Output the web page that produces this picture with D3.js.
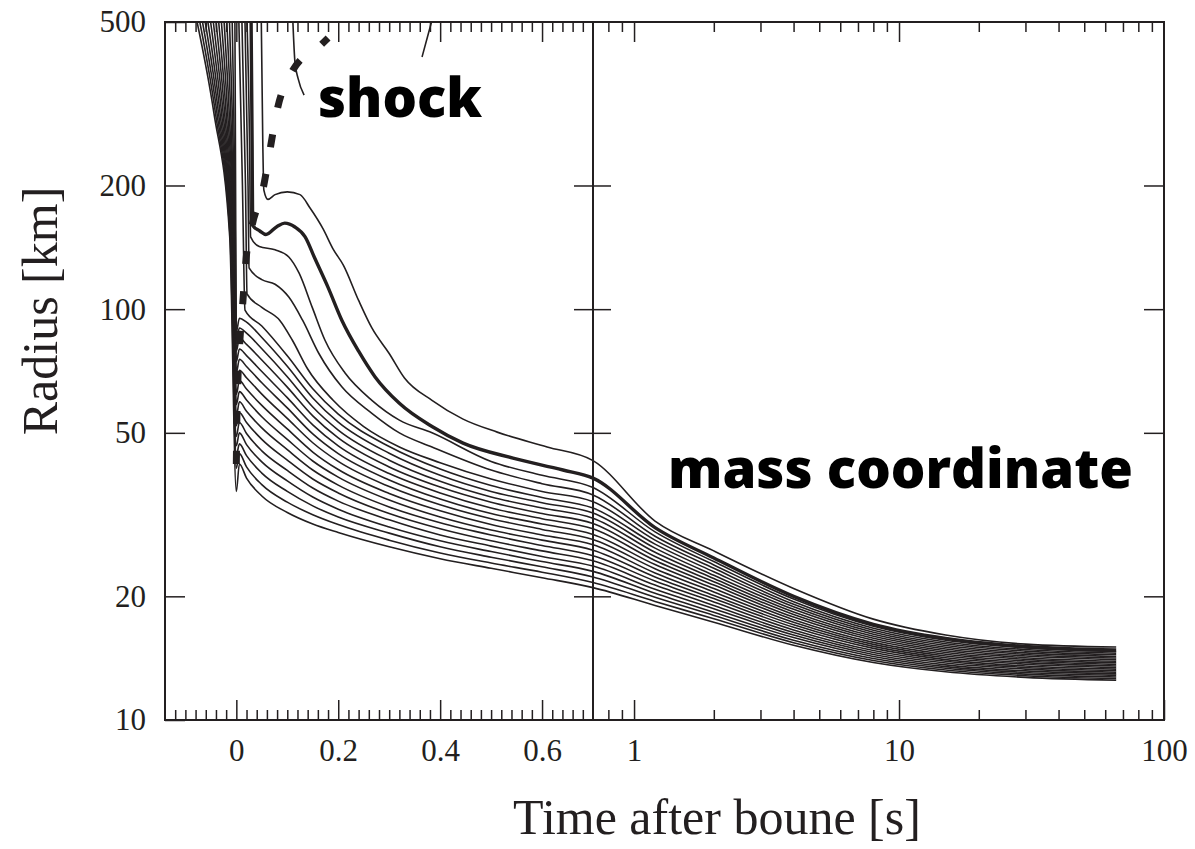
<!DOCTYPE html>
<html>
<head>
<meta charset="utf-8">
<script src="https://d3js.org/d3.v7.min.js"></script>
<style>
  body { margin: 0; background: #fff; }
  .tick line { stroke: #231f20; stroke-width: 1.5px; }
  .tick text { fill: #231f20; }
</style>
</head>
<body>
<div id="root"></div>
<script>
const width = 1195
const height = 849
const ink = '#231f20'

// axis ticks and labels
const leftTicks = [0, 0.2, 0.4, 0.6]
const leftLabels = ['0', '0.2', '0.4', '0.6']
const rightTicks = [1, 10, 100]
const rightLabels = ['1', '10', '100']
const rightMinor = [0.8, 0.9, 2, 3, 4, 5, 6, 7, 8, 9, 20, 30, 40, 50, 60, 70, 80, 90]
const yTicks = [10, 20, 50, 100, 200, 500]
const yLabels = ['10', '20', '50', '100', '200', '500']

// inner shells s0..s14: infall before bounce (time where r = 500, 300, 150 km)
const inTime500 = [-0.077, -0.0717, -0.0664, -0.0611, -0.0558, -0.0505, -0.0452, -0.0399, -0.0346, -0.0293, -0.024, -0.0187, -0.0134, -0.0081, -0.0028]
const inTime300 = [-0.044, -0.041, -0.038, -0.035, -0.032, -0.029, -0.026, -0.023, -0.020, -0.017, -0.014, -0.011, -0.008, -0.005, -0.002]
const inTime150 = [-0.013, -0.0122, -0.0113, -0.0105, -0.0096, -0.0088, -0.0079, -0.0071, -0.0062, -0.0054, -0.0045, -0.0037, -0.0028, -0.002, -0.0011]
const bounceMin = [36, 41, 44, 46.5, 49, 52, 55, 58.5, 62, 66, 70, 74.5, 79, 84, 88]   // t = 0
const bounceOut = [42, 44.5, 47, 50, 53, 56, 59.5, 63, 67, 71, 75.5, 80, 85, 90, 95]   // t = 0.006

const postTimes = [0.02, 0.05, 0.1, 0.15, 0.2, 0.3, 0.4, 0.5, 0.6, 0.7]
const postRadius = [
  [38.8, 35.1, 32.0, 30.0, 28.6, 26.4, 24.7, 23.4, 22.2, 21.0],
  [41.3, 37.4, 33.9, 31.6, 29.9, 27.4, 25.5, 24.1, 22.9, 21.6],
  [44.0, 39.9, 36.0, 33.2, 31.2, 28.5, 26.4, 24.9, 23.6, 22.3],
  [46.8, 42.5, 38.2, 34.9, 32.6, 29.5, 27.3, 25.7, 24.3, 23.0],
  [49.8, 45.2, 40.5, 36.7, 34.1, 30.7, 28.2, 26.5, 25.0, 23.7],
  [53.0, 48.2, 42.9, 38.6, 35.7, 31.8, 29.2, 27.3, 25.8, 24.4],
  [56.4, 51.4, 45.5, 40.6, 37.3, 33.0, 30.2, 28.2, 26.6, 25.1],
  [60.1, 54.7, 48.2, 42.7, 39.0, 34.3, 31.2, 29.0, 27.4, 25.9],
  [63.9, 58.3, 51.1, 44.9, 40.7, 35.6, 32.3, 29.9, 28.2, 26.7],
  [68.1, 62.1, 54.2, 47.3, 42.6, 37.0, 33.4, 30.9, 29.1, 27.5],
  [72.5, 66.2, 57.5, 49.7, 44.5, 38.4, 34.5, 31.8, 30.0, 28.3],
  [77.1, 70.5, 60.9, 52.3, 46.5, 39.8, 35.7, 32.8, 30.9, 29.2],
  [82.1, 75.2, 64.6, 55.0, 48.6, 41.3, 36.9, 33.9, 31.8, 30.1],
  [87.4, 80.1, 68.5, 57.8, 50.8, 42.9, 38.1, 34.9, 32.8, 31.0],
  [93.0, 85.3, 72.6, 60.8, 53.1, 44.6, 39.4, 36.0, 33.8, 31.9]
]

// outer shells s15..s20: infall, shock crossing, settling  [t, r]
const shell15 = [[0.005, 500], [0.012, 200], [0.017, 99.5], [0.05, 91], [0.1, 77], [0.15, 64], [0.2, 55.5], [0.3, 46.3], [0.4, 40.8], [0.5, 37.2], [0.6, 34.8], [0.7, 32.8]]
const shell16 = [[0.011, 500], [0.018, 200], [0.021, 109], [0.05, 101], [0.085, 94], [0.11, 84], [0.14, 71.5], [0.19, 60], [0.25, 51.8], [0.32, 46.2], [0.4, 42.3], [0.5, 38.6], [0.6, 36.0], [0.7, 34.0]]
const shell17 = [[0.017, 500], [0.023, 200], [0.025, 126], [0.05, 118], [0.076, 115], [0.103, 107], [0.13, 94], [0.162, 78], [0.207, 64.7], [0.266, 55.8], [0.32, 50], [0.384, 46.2], [0.5, 40.6], [0.6, 37.6], [0.7, 35.3]]
const shell18 = [[0.021, 500], [0.026, 250], [0.028, 150], [0.045, 142], [0.076, 139.5], [0.103, 134], [0.123, 122.5], [0.149, 101], [0.174, 84], [0.213, 70], [0.266, 60], [0.32, 53.7], [0.384, 50], [0.5, 42.6], [0.6, 39.4], [0.7, 36.8]]
const shell19 = [[0.029, 500], [0.031, 250], [0.032, 160], [0.046, 155], [0.058, 152], [0.08, 159], [0.095, 162], [0.115, 158.5], [0.135, 150], [0.154, 133], [0.18, 113], [0.207, 94], [0.24, 79], [0.272, 68.5], [0.32, 59], [0.384, 51.8], [0.445, 47.2], [0.543, 43.4], [0.641, 40.6], [0.7, 38.8]]
const shell20 = [[0.049, 500], [0.052, 250], [0.054, 195], [0.062, 185], [0.076, 190], [0.1, 193], [0.125, 190], [0.145, 176], [0.17, 157], [0.19, 140], [0.21, 128], [0.24, 105], [0.266, 90], [0.3, 78], [0.33, 68], [0.384, 60], [0.445, 54], [0.512, 50.2], [0.61, 46.2], [0.7, 42.8]]
const outerA = [[0.111, 500], [0.115, 400], [0.121, 365], [0.133, 332]]
const outerB = [[0.3645, 411], [0.38, 484], [0.383, 500]]

// late phase, all shells s0..s20
const lateTimes = [1.2, 2, 4, 8, 15, 30, 66]
const lateRadius = [
  [19.0, 17.3, 15.2, 13.8, 13.1, 12.7, 12.5],
  [19.44, 17.63, 15.42, 13.96, 13.23, 12.82, 12.61],
  [19.89, 17.97, 15.64, 14.12, 13.36, 12.93, 12.72],
  [20.35, 18.3, 15.87, 14.28, 13.49, 13.05, 12.84],
  [20.8, 18.66, 16.1, 14.44, 13.62, 13.17, 12.95],
  [21.3, 19.0, 16.33, 14.6, 13.76, 13.3, 13.07],
  [21.8, 19.38, 16.57, 14.77, 13.9, 13.42, 13.18],
  [22.3, 19.75, 16.81, 14.94, 14.03, 13.54, 13.3],
  [22.8, 20.1, 17.05, 15.11, 14.17, 13.67, 13.42],
  [23.35, 20.5, 17.3, 15.28, 14.31, 13.79, 13.54],
  [23.9, 20.9, 17.55, 15.45, 14.45, 13.92, 13.66],
  [24.45, 21.3, 17.8, 15.63, 14.6, 14.05, 13.78],
  [25.0, 21.7, 18.06, 15.81, 14.74, 14.18, 13.9],
  [25.6, 22.1, 18.32, 15.99, 14.89, 14.31, 14.03],
  [26.2, 22.5, 18.59, 16.17, 15.03, 14.44, 14.15],
  [26.8, 22.95, 18.86, 16.35, 15.18, 14.57, 14.28],
  [27.4, 23.4, 19.13, 16.54, 15.33, 14.71, 14.41],
  [28.0, 23.85, 19.4, 16.73, 15.49, 14.84, 14.54],
  [28.7, 24.3, 19.7, 16.92, 15.64, 14.98, 14.67],
  [29.4, 24.8, 20.0, 17.1, 15.8, 15.1, 14.8],
  [30.5, 25.8, 20.9, 17.6, 16.1, 15.3, 15.05]
]

// shock radius (dashed)
const shockTime = [0, 0.001, 0.003, 0.007, 0.013, 0.019, 0.031, 0.052, 0.066, 0.08, 0.109, 0.168, 0.18]
const shockRadius = [42, 54, 67, 84, 105, 132, 160, 195, 244, 305, 378, 442, 457]

// ---- layout ----
const plotLeft = 165
const plotMid = 593
const plotRight = 1164
const plotTop = 22
const plotBottom = 720

const xLin = d3.scaleLinear().domain([-0.14, 0.7]).range([plotLeft, plotMid])
const xLog = d3.scaleLog().domain([0.7, 100]).range([plotMid, plotRight])
const y = d3.scaleLog().domain([10, 500]).range([plotBottom, plotTop])
const x = t => t <= 0.7 ? xLin(t) : xLog(t)

const leftMinor = d3.range(-6, 35).map(k => k * 0.02).filter(v => Math.abs(v * 5 - Math.round(v * 5)) > 1e-6)

const svg = d3.select('#root').append('svg')
  .attr('width', width)
  .attr('height', height)

svg.append('clipPath').attr('id', 'plot')
  .append('rect')
  .attr('x', plotLeft).attr('y', plotTop)
  .attr('width', plotRight - plotLeft).attr('height', plotBottom - plotTop)

const line = d3.line()
  .x(d => x(d[0]))
  .y(d => y(d[1]))
  .curve(d3.curveMonotoneX)

const late = i => lateTimes.map((t, j) => [t, lateRadius[i][j]])

const innerShells = inTime500.map((t5, i) => [
  [t5, 500], [inTime300[i], 300], [inTime150[i], 150], [0, bounceMin[i]], [0.006, bounceOut[i]],
  ...postTimes.map((t, j) => [t, postRadius[i][j]]),
  ...late(i)
])
const outerShells = [shell15, shell16, shell17, shell18].map((s, k) => [...s, ...late(15 + k)])
const boldShell = [...shell19, ...late(19)]
const topShell = [...shell20, ...late(20)]

const curves = svg.append('g').attr('clip-path', 'url(#plot)')
  .attr('fill', 'none')
  .attr('stroke', ink)

curves.selectAll('path.thin')
  .data([...innerShells, ...outerShells, topShell, outerA, outerB])
  .enter().append('path')
  .attr('class', 'thin')
  .attr('d', line)
  .attr('stroke-width', 1.6)

curves.append('path')
  .attr('d', line(boldShell))
  .attr('stroke-width', 3.4)

curves.append('path')
  .attr('d', line(shockTime.map((t, i) => [t, shockRadius[i]])))
  .attr('stroke-width', 7)
  .attr('stroke-dasharray', '13 27')

// ---- axes ----
const serif = '"Liberation Serif", "Times New Roman", serif'
const style = g => g.attr('font-family', serif).attr('font-size', 31)
  .call(g => g.select('.domain').remove())
const blank = () => ''

svg.append('g').attr('transform', `translate(0,${plotBottom})`)
  .call(d3.axisBottom(xLin).tickValues(leftTicks).tickSize(-20).tickPadding(19).tickFormat((d, i) => leftLabels[i]))
  .call(style)
svg.append('g').attr('transform', `translate(0,${plotBottom})`)
  .call(d3.axisBottom(xLin).tickValues(leftMinor).tickSize(-10).tickFormat(blank))
  .call(style)
svg.append('g').attr('transform', `translate(0,${plotBottom})`)
  .call(d3.axisBottom(xLog).tickValues(rightTicks).tickSize(-20).tickPadding(19).tickFormat((d, i) => rightLabels[i]))
  .call(style)
svg.append('g').attr('transform', `translate(0,${plotBottom})`)
  .call(d3.axisBottom(xLog).tickValues(rightMinor).tickSize(-10).tickFormat(blank))
  .call(style)

svg.append('g').attr('transform', `translate(0,${plotTop})`)
  .call(d3.axisTop(xLin).tickValues(leftTicks).tickSize(-20).tickFormat(blank))
  .call(style)
svg.append('g').attr('transform', `translate(0,${plotTop})`)
  .call(d3.axisTop(xLin).tickValues(leftMinor).tickSize(-10).tickFormat(blank))
  .call(style)
svg.append('g').attr('transform', `translate(0,${plotTop})`)
  .call(d3.axisTop(xLog).tickValues(rightTicks.slice(0, 2)).tickSize(-20).tickFormat(blank))
  .call(style)
svg.append('g').attr('transform', `translate(0,${plotTop})`)
  .call(d3.axisTop(xLog).tickValues(rightMinor).tickSize(-10).tickFormat(blank))
  .call(style)

svg.append('g').attr('transform', `translate(${plotLeft},0)`)
  .call(d3.axisLeft(y).tickValues(yTicks).tickSize(-20).tickPadding(19).tickFormat((d, i) => yLabels[i]))
  .call(style)
svg.append('g').attr('transform', `translate(${plotRight},0)`)
  .call(d3.axisRight(y).tickValues(yTicks.slice(1, 5)).tickSize(-20).tickFormat(blank))
  .call(style)
svg.append('g').attr('transform', `translate(${plotMid},0)`)
  .call(d3.axisLeft(y).tickValues(yTicks.slice(1, 5)).tickSize(19).tickFormat(blank))
  .call(style)
svg.append('g').attr('transform', `translate(${plotMid},0)`)
  .call(d3.axisRight(y).tickValues(yTicks.slice(1, 5)).tickSize(18).tickFormat(blank))
  .call(style)

// frame and panel divider
svg.append('rect')
  .attr('x', plotLeft).attr('y', plotTop)
  .attr('width', plotRight - plotLeft).attr('height', plotBottom - plotTop)
  .attr('fill', 'none').attr('stroke', ink).attr('stroke-width', 2)
svg.append('line')
  .attr('x1', plotMid).attr('x2', plotMid)
  .attr('y1', plotTop).attr('y2', plotBottom)
  .attr('stroke', ink).attr('stroke-width', 2)

// axis titles
svg.append('text')
  .attr('transform', 'translate(57,311) rotate(-90)')
  .attr('text-anchor', 'middle')
  .attr('font-family', serif).attr('font-size', 50)
  .attr('fill', ink)
  .text('Radius [km]')

svg.append('text')
  .attr('x', 717).attr('y', 834)
  .attr('text-anchor', 'middle')
  .attr('font-family', serif).attr('font-size', 50)
  .attr('fill', ink)
  .text('Time after boune [s]')

// annotations
function fit(sel, w) {
  const len = sel.node().getComputedTextLength()
  sel.attr('font-size', 60 * w / len)
}

svg.append('text')
  .attr('x', 318).attr('y', 117)
  .attr('font-family', '"Open Sans", "Noto Sans", sans-serif')
  .attr('font-weight', 800).attr('font-size', 60)
  .attr('fill', '#000')
  .text('shock')
  .call(fit, 164)

svg.append('text')
  .attr('x', 668).attr('y', 488)
  .attr('font-family', '"Open Sans", "Noto Sans", sans-serif')
  .attr('font-weight', 800).attr('font-size', 60)
  .attr('fill', '#000')
  .text('mass coordinate')
  .call(fit, 465)
</script>
</body>
</html>
